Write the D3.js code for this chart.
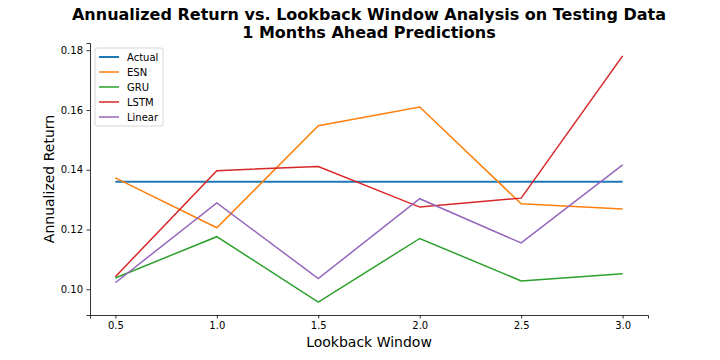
<!DOCTYPE html>
<html>
<head>
<script src="https://cdnjs.cloudflare.com/ajax/libs/d3/7.8.5/d3.min.js"></script>
<style>
  body { margin: 0; background: #fff; }
  svg { font-family: "DejaVu Sans", sans-serif; }
</style>
</head>
<body>
<div id="chart"></div>
<script>
// lookback windows on x axis
var windows = [0.5, 1.0, 1.5, 2.0, 2.5, 3.0];
var actual = [0.1360, 0.1360, 0.1360, 0.1360, 0.1360, 0.1360];
var esn    = [0.1373, 0.1206, 0.1547, 0.1610, 0.1286, 0.1269];
var gru    = [0.1038, 0.1176, 0.0957, 0.1170, 0.1028, 0.1052];
var lstm   = [0.1042, 0.1397, 0.1411, 0.1275, 0.1305, 0.1781];
var linear = [0.1022, 0.1289, 0.1036, 0.1303, 0.1155, 0.1416];
var xTicks = [0.5, 1.0, 1.5, 2.0, 2.5, 3.0];
var yTicks = [0.10, 0.12, 0.14, 0.16, 0.18];

var series = [
  { name: 'Actual', values: actual, color: '#1f77b4', width: 2 },
  { name: 'ESN', values: esn, color: '#ff7f0e', width: 1.5 },
  { name: 'GRU', values: gru, color: '#2ca02c', width: 1.5 },
  { name: 'LSTM', values: lstm, color: '#d62728', width: 1.5 },
  { name: 'Linear', values: linear, color: '#9467bd', width: 1.5 }
];

var width = 720, height = 360;
var padL = 90, padR = 648, padT = 43, padB = 315;

var svg = d3.select('#chart').append('svg')
  .attr('width', width)
  .attr('height', height);

var x = d3.scaleLinear().domain([0.375, 3.125]).range([padL, padR]);
var y = d3.scaleLinear().domain([0.0914, 0.1824]).range([padB, padT]);

// lines
var line = d3.line()
  .x(function(d, i) { return x(windows[i]); })
  .y(function(d) { return y(d); });

series.forEach(function(s) {
  svg.append('path')
    .datum(s.values)
    .attr('fill', 'none')
    .attr('stroke', s.color)
    .attr('stroke-width', s.width)
    .attr('d', line);
});

// axes
var xAxis = svg.append('g')
  .attr('transform', 'translate(0,' + padB + ')')
  .call(d3.axisBottom(x).tickValues(xTicks).tickFormat(d3.format('.1f')).tickSizeOuter(0).tickSize(3.5).tickPadding(3.5));
var yAxis = svg.append('g')
  .attr('transform', 'translate(' + padL + ',0)')
  .call(d3.axisLeft(y).tickValues(yTicks).tickFormat(d3.format('.2f')).tickSizeOuter(0).tickSize(3.5).tickPadding(3.5));

[xAxis, yAxis].forEach(function(a) {
  a.selectAll('text').attr('font-size', 10).attr('fill', '#000').attr('font-family', '"DejaVu Sans", sans-serif');
  a.selectAll('line').attr('stroke', '#000').attr('stroke-width', 0.8);
  a.select('.domain').attr('stroke', '#000').attr('stroke-width', 0.8);
});

// titles
svg.append('text')
  .attr('x', (padL + padR) / 2).attr('y', 20)
  .attr('text-anchor', 'middle')
  .attr('font-size', 16).attr('font-weight', 'bold')
  .text('Annualized Return vs. Lookback Window Analysis on Testing Data');
svg.append('text')
  .attr('x', (padL + padR) / 2).attr('y', 38)
  .attr('text-anchor', 'middle')
  .attr('font-size', 16).attr('font-weight', 'bold')
  .text('1 Months Ahead Predictions');

svg.append('text')
  .attr('x', (padL + padR) / 2).attr('y', 347)
  .attr('text-anchor', 'middle')
  .attr('font-size', 14)
  .text('Lookback Window');

svg.append('text')
  .attr('transform', 'translate(54,' + ((padT + padB) / 2) + ') rotate(-90)')
  .attr('text-anchor', 'middle')
  .attr('font-size', 14)
  .text('Annualized Return');

// legend
var legend = svg.append('g').attr('transform', 'translate(95,48)');
legend.append('rect')
  .attr('width', 68).attr('height', 78)
  .attr('rx', 2)
  .attr('fill', '#fff').attr('fill-opacity', 0.8)
  .attr('stroke', '#ccc').attr('stroke-width', 0.8);

series.forEach(function(s, i) {
  var g = legend.append('g').attr('transform', 'translate(0,' + (9 + i * 15) + ')');
  g.append('line')
    .attr('x1', 4).attr('x2', 24)
    .attr('stroke', s.color).attr('stroke-width', s.width);
  g.append('text')
    .attr('x', 32).attr('y', 3.5)
    .attr('font-size', 10)
    .text(s.name);
});
</script>
</body>
</html>
